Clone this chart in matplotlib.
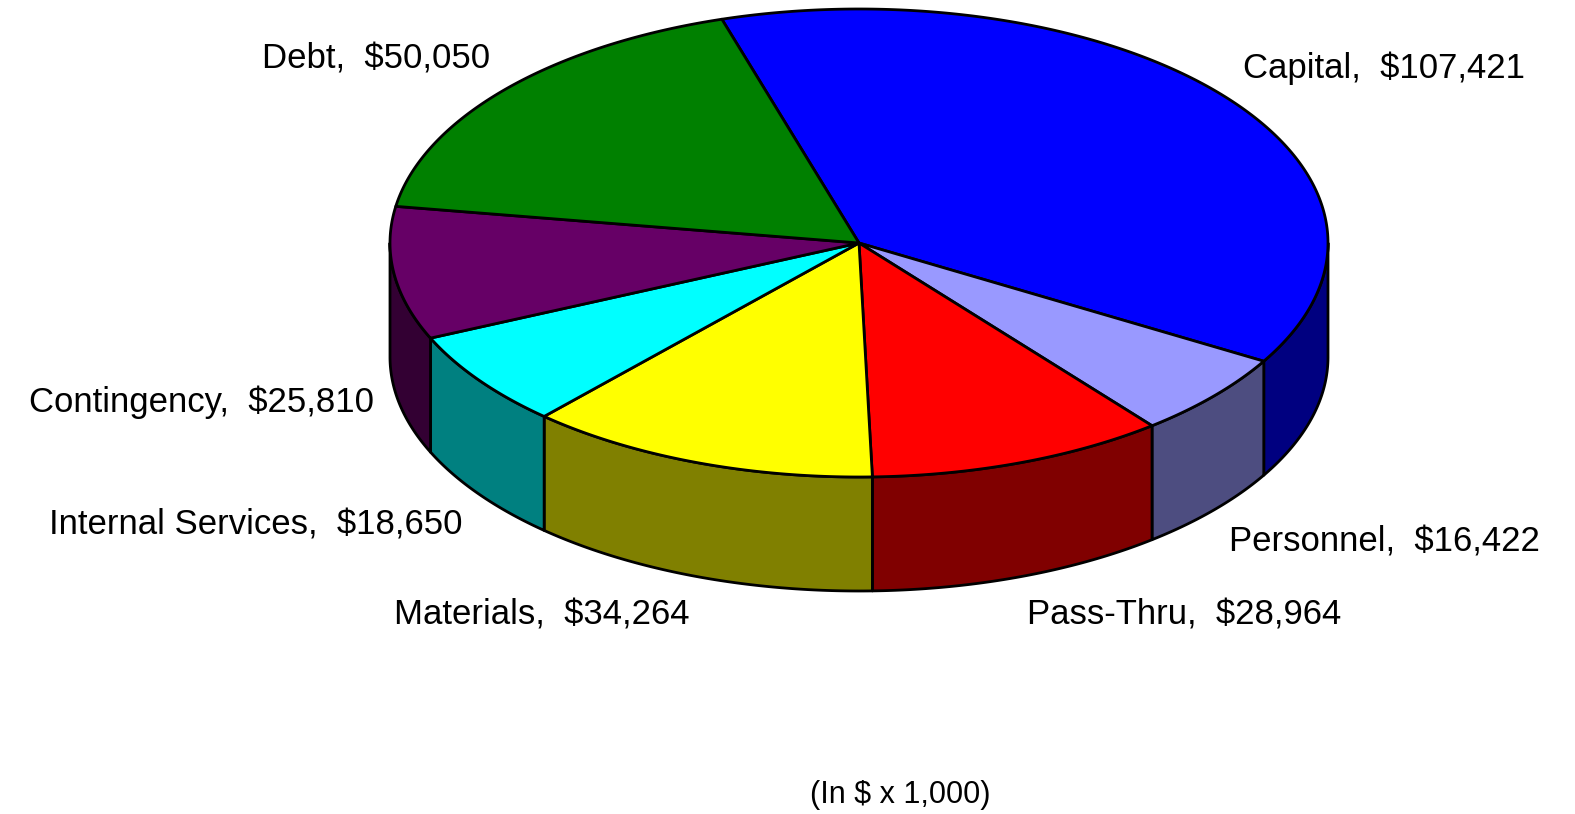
"""
3D-style pie chart of budget categories (In $ x 1,000).
"""
import numpy as np
import matplotlib
matplotlib.use("Agg")
import matplotlib.pyplot as plt
from matplotlib.patches import Polygon

categories = ['Capital', 'Personnel', 'Pass-Thru', 'Materials',
              'Internal Services', 'Contingency', 'Debt']
values = [107421, 16422, 28964, 34264, 18650, 25810, 50050]
top_colors = ['#0000FF', '#9999FF', '#FF0000', '#FFFF00',
              '#00FFFF', '#660066', '#008000']
side_colors = ['#000080', '#4D4D80', '#800000', '#808000',
               '#008080', '#330033', '#004000']

# geometry of the tilted disc, in pixels
CX, CY = 859, 243
RX, RY = 469, 234
DEPTH = 114
START = 107.0  # degrees, slices run clockwise

W, H = 1575, 814
fig = plt.figure(figsize=(W / 100, H / 100), dpi=100)
ax = fig.add_axes([0, 0, 1, 1])
ax.set_xlim(0, W)
ax.set_ylim(H, 0)
ax.axis('off')


def rim(t_deg, drop=0.0):
    t = np.radians(t_deg)
    return CX + RX * np.cos(t), CY - RY * np.sin(t) + drop


total = float(sum(values))
spans = [v / total * 360.0 for v in values]
bounds = START - np.concatenate([[0], np.cumsum(spans)])

# side walls (only the front half is visible)
for i in range(len(values)):
    a0, a1 = bounds[i], bounds[i + 1]
    for shift in (0, 360, -360):
        lo, hi = a1 + shift, a0 + shift
        s_lo, s_hi = max(lo, -180.0), min(hi, 0.0)
        if s_hi <= s_lo:
            continue
        ts = np.linspace(s_hi, s_lo, 80)
        xs, ys = rim(ts)
        xb, yb = rim(ts[::-1], DEPTH)
        pts = np.column_stack([np.concatenate([xs, xb]),
                               np.concatenate([ys, yb])])
        ax.add_patch(Polygon(pts, closed=True, facecolor=side_colors[i],
                             edgecolor='black', linewidth=2.0,
                             joinstyle='round', zorder=1))

# top faces
for i in range(len(values)):
    ts = np.linspace(bounds[i], bounds[i + 1], 200)
    xs, ys = rim(ts)
    pts = np.column_stack([np.concatenate([[CX], xs]),
                           np.concatenate([[CY], ys])])
    ax.add_patch(Polygon(pts, closed=True, facecolor=top_colors[i],
                         edgecolor='black', linewidth=2.0,
                         joinstyle='round', zorder=2))

# labels
for i, name in enumerate(categories):
    mid = (bounds[i] + bounds[i + 1]) / 2.0
    s = np.sin(np.radians(mid))
    c = np.cos(np.radians(mid))
    x, y = rim(mid, DEPTH if s < 0 else 0.0)
    dx = 20 * c
    dy = -30 if s > 0 else 40 * np.sqrt(abs(s))
    ax.text(x + dx, y + dy, f"{name},  ${values[i]:,}",
            ha='left' if c > 0 else 'right', va='center',
            fontsize=25, family='Liberation Sans', zorder=3)

ax.text(900, 795, "(In $ x 1,000)", ha='center', va='center',
        fontsize=22, family='Liberation Sans')

fig.savefig("out.png", dpi=100)
plt.close(fig)
